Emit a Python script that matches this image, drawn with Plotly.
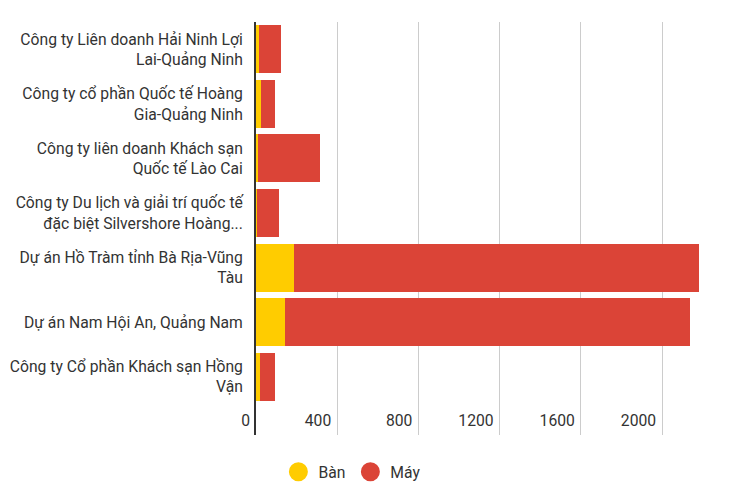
import plotly.graph_objects as go

categories = [
    "Công ty Liên doanh Hải Ninh Lợi<br>Lai-Quảng Ninh",
    "Công ty cổ phần Quốc tế Hoàng<br>Gia-Quảng Ninh",
    "Công ty liên doanh Khách sạn<br>Quốc tế Lào Cai",
    "Công ty Du lịch và giải trí quốc tế<br>đặc biệt Silvershore Hoàng...",
    "Dự án Hồ Tràm tỉnh Bà Rịa-Vũng<br>Tàu",
    "Dự án Nam Hội An, Quảng Nam",
    "Công ty Cổ phần Khách sạn Hồng<br>Vận",
]
ban_values = [16, 23, 8, 5, 186, 144, 21]
may_values = [105, 71, 306, 109, 1998, 1995, 73]
series_names = ["Bàn", "Máy"]
x_ticks = [0, 400, 800, 1200, 1600, 2000]

YELLOW = "#FFCC00"
RED = "#DB4437"
TEXT = "#333333"
FS = 15.7

fig = go.Figure()
fig.add_trace(go.Bar(y=categories, x=ban_values, orientation="h", name=series_names[0],
                     marker=dict(color=YELLOW, line=dict(width=0)), showlegend=False))
fig.add_trace(go.Bar(y=categories, x=may_values, orientation="h", name=series_names[1],
                     marker=dict(color=RED, line=dict(width=0)), showlegend=False))
# legend entries drawn as circles
for nm, col in zip(series_names, [YELLOW, RED]):
    fig.add_trace(go.Scatter(x=[None], y=[None], mode="markers", name=nm,
                             marker=dict(symbol="circle", size=16, color=col,
                                         line=dict(color=col, width=3))))

fig.update_layout(
    width=722, height=494,
    margin=dict(l=248, r=7, t=14, b=67, autoexpand=False),
    barmode="stack",
    bargap=0.12,
    paper_bgcolor="white",
    plot_bgcolor="white",
    font=dict(family="Roboto", size=FS, color=TEXT),
    legend=dict(orientation="h", x=0.2064, xanchor="center", y=-0.0896, yanchor="middle",
                traceorder="normal", font=dict(size=FS, color=TEXT), itemsizing="trace"),
    xaxis=dict(range=[0, 2300], tickvals=x_ticks, showgrid=True, gridcolor="#cccccc",
               gridwidth=1, zeroline=False, showline=False, automargin=False,
               ticklabelposition="inside left", ticklabeloverflow="allow",
               ticklabelshift=-6,
               tickfont=dict(size=FS, color=TEXT)),
    yaxis=dict(categoryorder="array", categoryarray=categories, range=[7.067, -0.5],
               showline=True, linecolor="#333333", linewidth=2, showgrid=False,
               zeroline=False, ticks="", ticklabelstandoff=8, automargin=False,
               tickfont=dict(size=FS, color=TEXT)),
)

fig.write_html("out.html")
